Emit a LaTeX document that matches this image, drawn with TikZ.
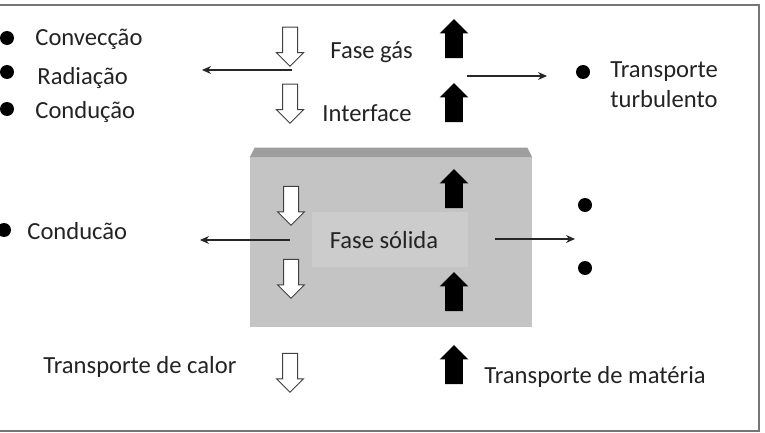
\documentclass[tikz,border=0pt]{standalone}
\usepackage{fontspec}
\setmainfont{Carlito}
\usetikzlibrary{shapes.arrows,arrows.meta,positioning,calc}
\definecolor{cinzaSolido}{RGB}{196,196,196}
\definecolor{cinzaTopo}{RGB}{158,158,158}
\definecolor{cinzaClaro}{RGB}{204,204,204}
\definecolor{cinzaMoldura}{RGB}{118,118,118}
\definecolor{textoEscuro}{RGB}{35,35,35}
\tikzset{
  rotulo/.style={anchor=west, inner sep=0pt, font=\fontsize{12.3}{15}\selectfont,
                 text=textoEscuro, align=left},
  ponto/.style={circle, fill=black, inner sep=0pt, minimum size=7pt},
  calor/.style={single arrow, draw=black!75, fill=white, line width=0.5pt, rotate=270,
                minimum height=19.5pt, minimum width=13pt, single arrow head extend=3pt,
                inner xsep=0pt, inner ysep=3.5pt},
  materia/.style={single arrow, fill=black, rotate=90,
                  minimum height=19.5pt, minimum width=14pt, single arrow head extend=2.75pt,
                  inner xsep=0pt, inner ysep=4.25pt},
  seta/.style={-{Stealth[length=4.5pt,width=4pt]}, line width=0.6pt, black!85},
}
\begin{document}
\begin{tikzpicture}[x=0.5pt, y=-0.5pt]
  \useasboundingbox (0,0) rectangle (765,433);
  \draw[cinzaMoldura, line width=1pt] (0,5) -- (759,5) -- (759,431) -- (0,431);
  % fase solida
  \node[fill=cinzaSolido, minimum width=141pt, minimum height=84.5pt, inner sep=0pt] (bloco) at (391,242.5) {};
  \fill[cinzaTopo] (bloco.north west) -- ++(5,-10) -- ($(bloco.north east)+(-5,-10)$) -- (bloco.north east) -- cycle;
  \fill[cinzaClaro] (312,212) rectangle (468,267);
  \node[rotulo, anchor=center] (faseSolida) at (384,240) {Fase sólida};
  % fase gas
  \node[rotulo] (faseGas) at (330,52) {Fase gás};
  \node[rotulo] (interface) at (322,113) {Interface};
  \node[rotulo] (conveccao) at (35,39) {Convecção};
  \node[rotulo] (radiacao) at (37,78) {Radiação};
  \node[rotulo] (conducao) at (35,112) {Condução};
  \node[rotulo] (turbulento) at (610,85) {Transporte\\turbulento};
  \node[rotulo] (conducaoSolida) at (27,231) {Conducão};
  \node[ponto] (p1) at (7,38) {}; \node[ponto] (p2) at (7,72) {}; \node[ponto] (p3) at (7,109) {};
  \node[ponto] (p4) at (583,72) {}; \node[ponto] (p5) at (4,230) {};
  \node[ponto] (p6) at (585,205) {}; \node[ponto] (p7) at (585,268) {};
  % setas de calor e materia
  \node[calor] (c1) at (290,43) {}; \node[calor] (c2) at (290,100) {};
  \node[calor] (c3) at (291,202) {}; \node[calor] (c4) at (291,275) {};
  \node[materia] (m1) at (454,43) {}; \node[materia] (m2) at (454,107) {};
  \node[materia] (m3) at (454,193) {}; \node[materia] (m4) at (454,296) {};
  % transporte
  \coordinate (gasE) at (292,70); \coordinate (gasW) at (202,70);
  \coordinate (gasD) at (467,76); \coordinate (gasF) at (547,76);
  \coordinate (solE) at (290,240); \coordinate (solW) at (200,240);
  \coordinate (solD) at (495,239); \coordinate (solF) at (575,239);
  \draw[seta] (gasE)--(gasW); \draw[seta] (gasD)--(gasF); \draw[seta] (solE)--(solW); \draw[seta] (solD)--(solF);
  % legenda
  \node[rotulo] (legCalor) at (43,367) {Transporte de calor};
  \node[calor] (c5) at (290,369) {};
  \node[materia] (m5) at (454,369) {};
  \node[rotulo] (legMateria) at (484,377) {Transporte de matéria};
\end{tikzpicture}
\end{document}
